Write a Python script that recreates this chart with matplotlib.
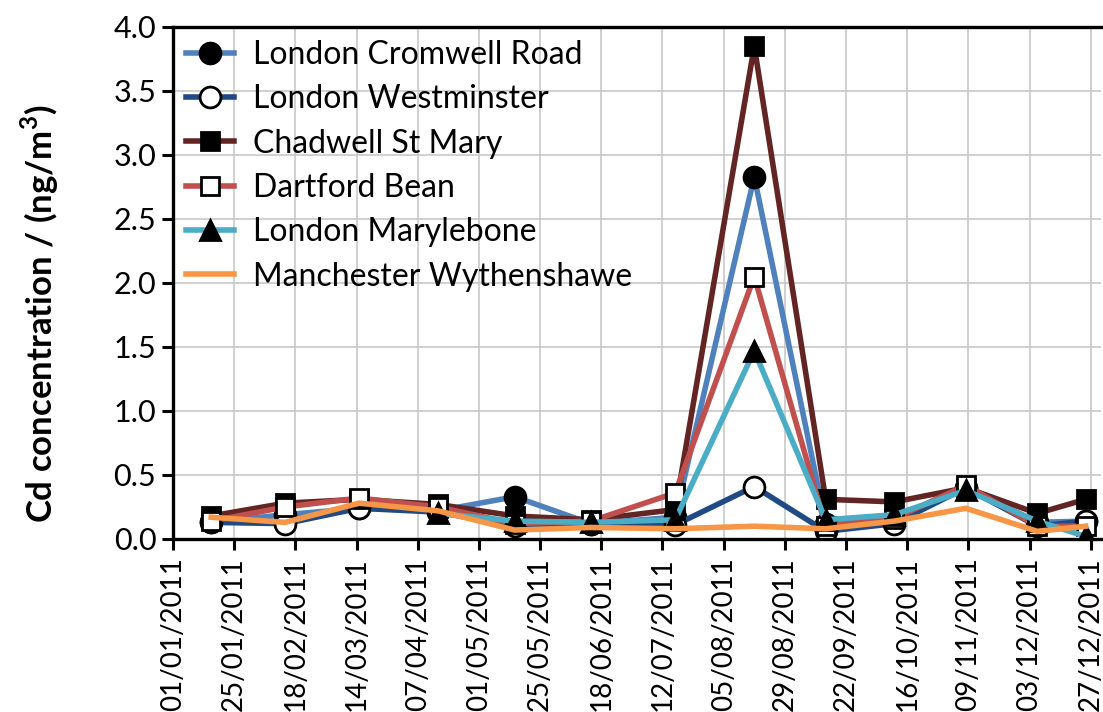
import matplotlib
matplotlib.use("Agg")
import matplotlib.pyplot as plt
import numpy as np
import datetime as dt

# ---- data ----
sample_dates = ['2011-01-16', '2011-02-14', '2011-03-15', '2011-04-15', '2011-05-15',
                '2011-06-14', '2011-07-17', '2011-08-17', '2011-09-14', '2011-10-11',
                '2011-11-08', '2011-12-06', '2011-12-25']
cromwell = [0.13, 0.19, 0.24, 0.22, 0.33, 0.12, 0.17, 2.83, 0.12, 0.16, 0.40, 0.13, 0.14]
westminster = [0.13, 0.12, 0.24, 0.21, 0.10, 0.12, 0.11, 0.41, 0.06, 0.12, 0.40, 0.10, 0.14]
chadwell = [0.18, 0.28, 0.31, 0.27, 0.18, 0.15, 0.23, 3.85, 0.31, 0.29, 0.40, 0.20, 0.31]
dartford = [0.14, 0.25, 0.32, 0.25, 0.12, 0.14, 0.36, 2.05, 0.10, 0.16, 0.42, 0.10, 0.10]
marylebone = [np.nan, np.nan, np.nan, 0.20, 0.14, 0.13, 0.15, 1.47, 0.15, 0.19, 0.38, 0.14, 0.02]
manchester = [0.17, 0.13, 0.28, 0.22, 0.07, 0.09, 0.08, 0.10, 0.08, 0.14, 0.24, 0.06, 0.10]

series_names = ['London Cromwell Road', 'London Westminster', 'Chadwell St Mary',
                'Dartford Bean', 'London Marylebone', 'Manchester Wythenshawe']

tick_labels = ['01/01/2011', '25/01/2011', '18/02/2011', '14/03/2011', '07/04/2011',
               '01/05/2011', '25/05/2011', '18/06/2011', '12/07/2011', '05/08/2011',
               '29/08/2011', '22/09/2011', '16/10/2011', '09/11/2011', '03/12/2011',
               '27/12/2011']
y_ticks = [0.0, 0.5, 1.0, 1.5, 2.0, 2.5, 3.0, 3.5, 4.0]

# ---- plot ----
plt.rcParams['font.family'] = ['Lato', 'DejaVu Sans']

fig = plt.figure(figsize=(11.03, 7.12), dpi=100)
ax = fig.add_axes([173/1103, 1 - 539/712, (1101 - 173)/1103, (539 - 27)/712])

x = [dt.datetime.strptime(d, '%Y-%m-%d') for d in sample_dates]

styles = [
    (cromwell, '#4F81BD', 'o', 'black', 15),
    (westminster, '#1F4A84', 'o', 'white', 15),
    (chadwell, '#632523', 's', 'black', 13),
    (dartford, '#C0504D', 's', 'white', 13),
    (marylebone, '#4BACC6', '^', 'black', 14),
    (manchester, '#F79646', None, None, 0),
]

for (vals, col, mk, fc, ms), name in zip(styles, series_names):
    if mk is None:
        ax.plot(x, vals, color=col, lw=4.0, label=name, solid_joinstyle='round')
    else:
        ax.plot(x, vals, color=col, lw=4.0, marker=mk, markersize=ms,
                markerfacecolor=fc, markeredgecolor='black', markeredgewidth=2.0,
                label=name, solid_joinstyle='round')

tick_dates = [dt.datetime.strptime(t, '%d/%m/%Y') for t in tick_labels]
ax.set_xticks(tick_dates)
ax.set_xticklabels(tick_labels, rotation=90, fontsize=20)
ax.set_xlim(dt.datetime(2011, 1, 1), dt.datetime(2011, 12, 31))

ax.set_yticks(y_ticks)
ax.set_yticklabels([f'{v:.1f}' for v in y_ticks], fontsize=22)
ax.set_ylim(0, 4.0)

ax.grid(True, color='#C8C8C8', lw=1.2)
ax.set_axisbelow(True)

for s in ['left', 'bottom', 'top']:
    ax.spines[s].set_linewidth(2.4)
    ax.spines[s].set_color('black')
ax.spines['right'].set_visible(False)
ax.tick_params(axis='both', direction='out', width=2.2, length=8, color='black')
ax.tick_params(axis='x', pad=5)
ax.tick_params(axis='y', pad=4)

ax.set_ylabel('Cd concentration / (ng/m$^\\mathregular{3}$)', fontsize=25, fontweight='bold')
ax.yaxis.set_label_coords(-0.121, 0.44)

leg = ax.legend(loc='upper left', frameon=False, fontsize=23, handlelength=1.5,
                labelspacing=0.45, borderaxespad=0.0, handletextpad=0.6,
                bbox_to_anchor=(0.0, 1.0))

fig.savefig('out.png', dpi=100)
